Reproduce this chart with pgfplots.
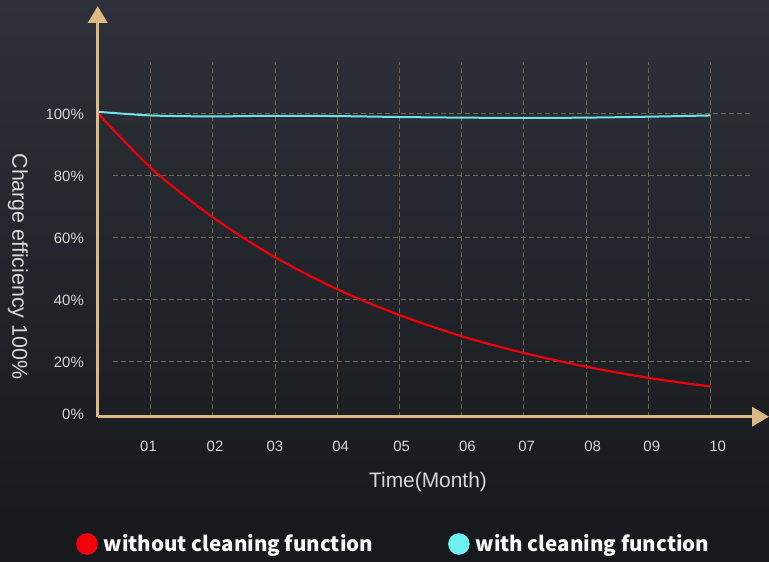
\documentclass[border=0pt]{standalone}
\usepackage{pgfplots}
\pgfplotsset{compat=1.18}
\usepackage{fontspec}
\setmainfont{Liberation Sans}
\newfontfamily\legfont{Noto Sans CJK SC}
\usetikzlibrary{arrows.meta}
\definecolor{bgtop}{RGB}{46,49,57}
\definecolor{bgbot}{RGB}{23,24,29}
\definecolor{axiscol}{RGB}{221,186,132}
\definecolor{gridcol}{RGB}{112,101,80}
\definecolor{redc}{RGB}{240,0,8}
\definecolor{cyanc}{RGB}{108,228,234}
\definecolor{legcyan}{RGB}{110,240,242}
\definecolor{ticktext}{RGB}{215,215,215}
\begin{document}
\begin{tikzpicture}
\shade[top color=bgtop, bottom color=bgbot] (0,0) rectangle (769bp,562bp);
\begin{axis}[
  at={(97.7bp,145.3bp)}, anchor=south west,
  scale only axis, width=671.3bp, height=410.7bp,
  xmin=0.148, xmax=10.94, ymin=2.32, ymax=134.4,
  axis lines=left,
  axis on top,
  clip=false,
  axis line style={draw=axiscol, line width=3.5bp},
  x axis line style={-{Triangle[width=19bp,length=17bp]}},
  y axis line style={-{Triangle[width=19bp,length=17bp]}},
  major tick length=0pt,
  tick style={draw=none},
  xtick={0.965,2.034,2.998,4.055,5.035,6.090,7.045,8.106,9.055,10.116},
  xticklabels={01,02,03,04,05,06,07,08,09,10},
  ytick={3.4,20,40,60,80,100},
  yticklabels={0\%,20\%,40\%,60\%,80\%,100\%},
  xticklabel style={anchor=center, yshift=-29.3bp, text=ticktext, font=\fontsize{15}{15}\selectfont},
  yticklabel style={anchor=east, inner sep=0pt, xshift=-13.7bp, yshift=-1bp, text=ticktext, font=\fontsize{15}{15}\selectfont},
  legend columns=2,
  legend style={at={(0.441,-0.31)}, anchor=center, draw=none, fill=none,
    text=white, font=\legfont\bfseries\fontsize{20.6}{20.6}\selectfont,
    /tikz/every odd column/.append style={column sep=4bp},
    /tikz/every even column/.append style={column sep=73bp}},
]
\pgfplotsinvokeforeach{1,...,10}{
  \draw[gridcol, dash pattern=on 5bp off 3bp, line width=0.9bp] (axis cs:#1,2.32) -- (axis cs:#1,116.4);
}
\pgfplotsinvokeforeach{20,40,60,80,100}{
  \draw[gridcol, dash pattern=on 5bp off 3bp, line width=0.9bp] (axis cs:0.394,#1) -- (axis cs:10.64,#1);
}
\addplot[redc, line width=2.2bp, smooth,
  legend image code/.code={\fill[redc] (0bp,0bp) circle (9.75bp);}] coordinates {
  (0.148,100) (1,82.4) (2,66.4) (3,53.6) (4,43.3) (5,35.0) (6,28.2) (7,22.8) (8,18.4) (9,14.8) (10,12.0)
};
\addlegendentry{without cleaning function}
\addplot[cyanc, line width=2bp, smooth,
  legend image code/.code={\fill[legcyan] (0bp,0bp) circle (9.75bp);}] coordinates {
  (0.148,100.4) (1,99.2) (2,98.9) (3,99.1) (4,99.0) (5,98.7) (6,98.5) (7,98.4) (8,98.5) (9,98.8) (10,99.2)
};
\addlegendentry{with cleaning function}
\end{axis}
\node[rotate=-90, text=ticktext, font=\fontsize{21.5}{21.5}\selectfont] at (18bp,295.5bp) {Charge efficiency 100\%};
\node[text=ticktext, font=\fontsize{21}{21}\selectfont] at (428bp,79.5bp) {Time(Month)};
\pgfresetboundingbox
\path (0,0) rectangle (769bp,562bp);
\end{tikzpicture}
\end{document}
